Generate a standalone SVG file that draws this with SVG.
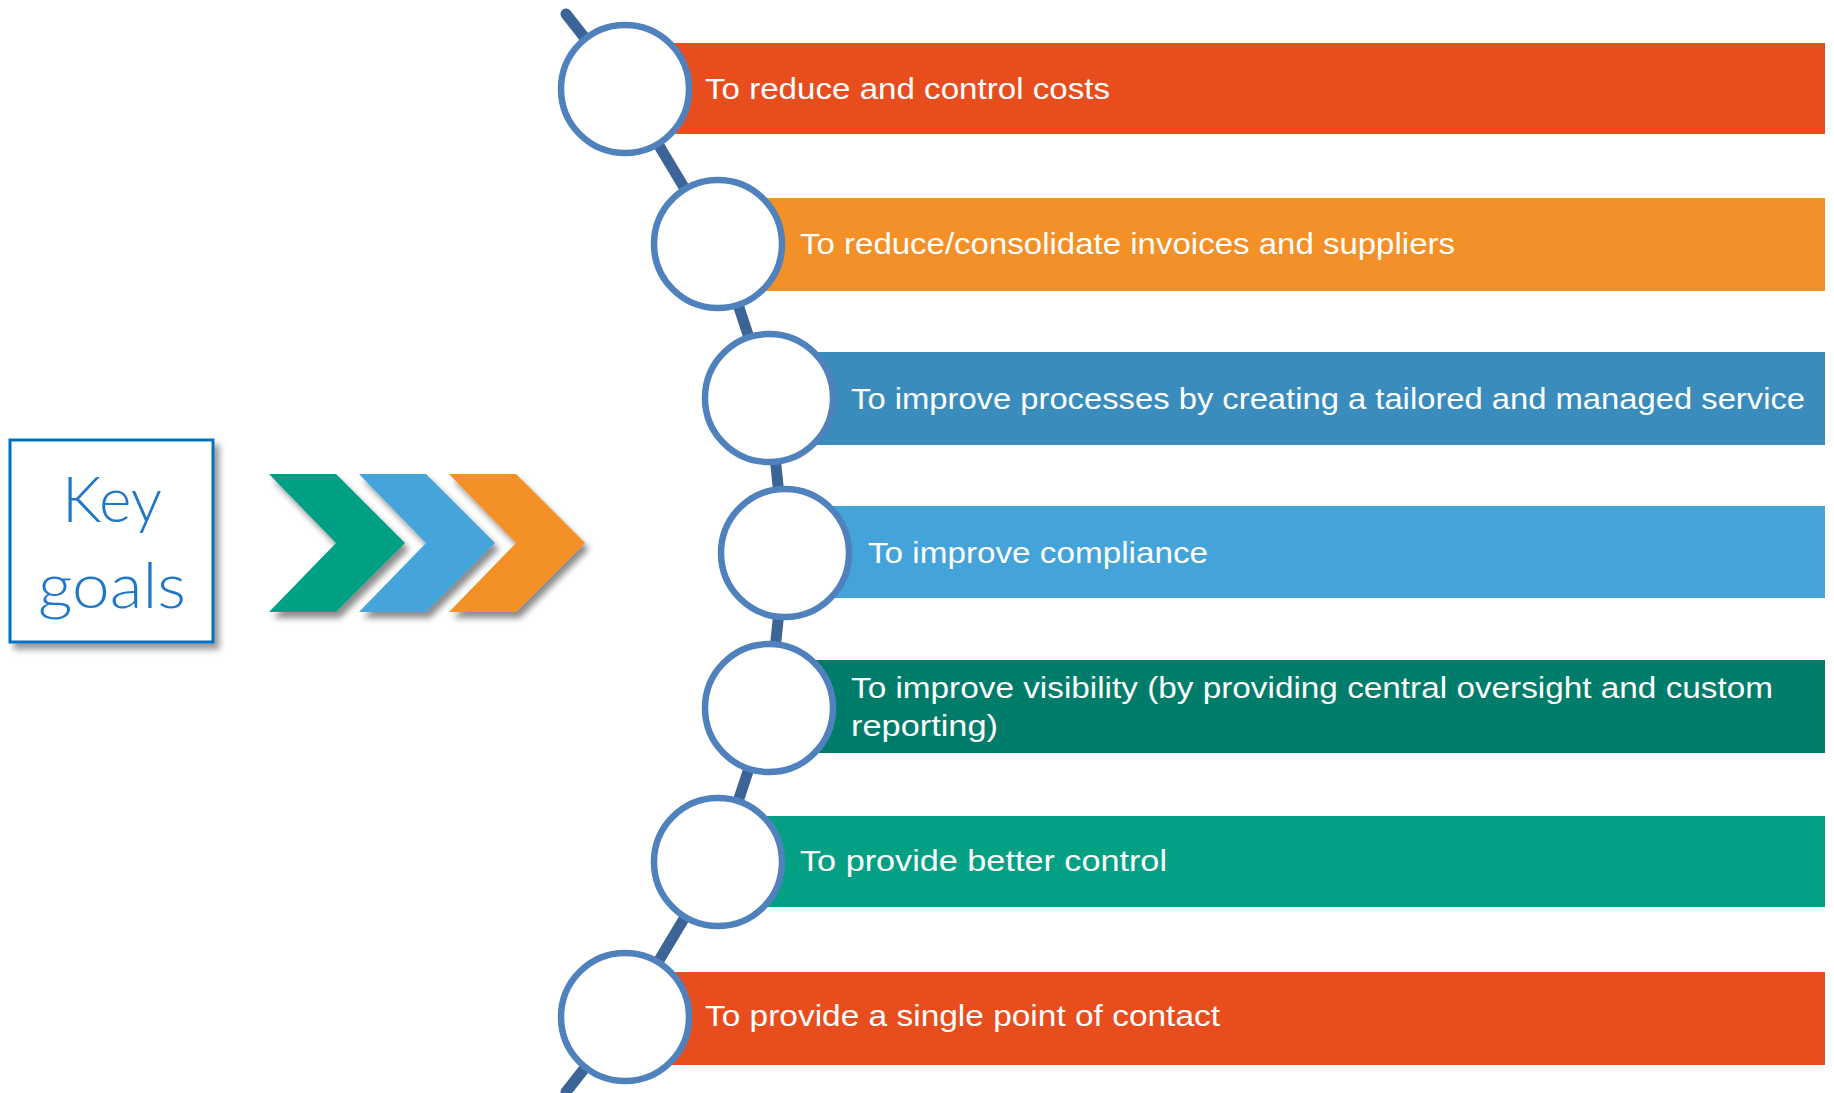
<svg xmlns="http://www.w3.org/2000/svg" width="1834" height="1093" viewBox="0 0 1834 1093">
  <defs>
    <filter id="shadow" x="-20%" y="-20%" width="150%" height="150%">
      <feDropShadow dx="4" dy="6" stdDeviation="3" flood-color="#000" flood-opacity="0.45"/>
    </filter>
    <filter id="boxshadow" x="-20%" y="-20%" width="150%" height="150%">
      <feDropShadow dx="5" dy="6" stdDeviation="3" flood-color="#000" flood-opacity="0.4"/>
    </filter>
  </defs>
  <style>
    .ring { fill: #ffffff; stroke: #4F81BD; stroke-width: 6.5; }
    .stem { fill: none; stroke: #3D6496; stroke-width: 11; stroke-linejoin: round; stroke-linecap: round; }
    .lbl { font-family: "Liberation Sans", Arial, sans-serif; font-size: 29px; fill: #ffffff; }
    .key { font-family: Lato, "Liberation Sans", Arial, sans-serif; font-weight: 300; font-size: 64px; fill: #1F77C9; text-anchor: middle; }
  </style>
  <rect width="1834" height="1093" fill="#ffffff"/>

  <g id="key-goals">
    <rect x="10" y="440" width="203" height="202" fill="#ffffff" stroke="#0070C0" stroke-width="3" filter="url(#boxshadow)"/>
    <text class="key" x="112" y="522" textLength="100" lengthAdjust="spacingAndGlyphs">Key</text>
    <text class="key" x="112" y="608" textLength="148" lengthAdjust="spacingAndGlyphs">goals</text>
  </g>

  <g id="chevrons" filter="url(#shadow)">
    <polygon points="269,474 336,474 405,543 336,612 269,612 336,543" fill="#03A084"/>
    <polygon points="359,474 426,474 495,543 426,612 359,612 426,543" fill="#44A4DA"/>
    <polygon points="449,474 516,474 585,543 516,612 449,612 516,543" fill="#F39027"/>
  </g>

  <g id="bars">
    <rect x="625" y="43" width="1200" height="91" fill="#E84E1D"/>
    <rect x="718" y="198" width="1107" height="93" fill="#F39027"/>
    <rect x="769" y="352" width="1056" height="93" fill="#3A8CBC"/>
    <rect x="785" y="506" width="1040" height="92" fill="#44A4DA"/>
    <rect x="769" y="660" width="1056" height="93" fill="#007C6A"/>
    <rect x="718" y="816" width="1107" height="91" fill="#03A084"/>
    <rect x="625" y="972" width="1200" height="93" fill="#E84E1D"/>
  </g>

  <g id="connectors">
    <polyline class="stem" points="566,14 625,89 718,244 769,398 785,553 769,708 718,862 625,1017 566,1092"/>
  </g>

  <g id="goal-1">
    <circle class="ring" cx="625" cy="89" r="64"/>
    <text class="lbl" x="705" y="99" textLength="405" lengthAdjust="spacingAndGlyphs">To reduce and control costs</text>
  </g>
  <g id="goal-2">
    <circle class="ring" cx="718" cy="244" r="64"/>
    <text class="lbl" x="800" y="254" textLength="655" lengthAdjust="spacingAndGlyphs">To reduce/consolidate invoices and suppliers</text>
  </g>
  <g id="goal-3">
    <circle class="ring" cx="769" cy="398" r="64"/>
    <text class="lbl" x="851" y="409" textLength="954" lengthAdjust="spacingAndGlyphs">To improve processes by creating a tailored and managed service</text>
  </g>
  <g id="goal-4">
    <circle class="ring" cx="785" cy="553" r="64"/>
    <text class="lbl" x="868" y="563" textLength="340" lengthAdjust="spacingAndGlyphs">To improve compliance</text>
  </g>
  <g id="goal-5">
    <circle class="ring" cx="769" cy="708" r="64"/>
    <text class="lbl" x="851" y="698" textLength="922" lengthAdjust="spacingAndGlyphs">To improve visibility (by providing central oversight and custom</text>
    <text class="lbl" x="851" y="736" textLength="147" lengthAdjust="spacingAndGlyphs">reporting)</text>
  </g>
  <g id="goal-6">
    <circle class="ring" cx="718" cy="862" r="64"/>
    <text class="lbl" x="800" y="871" textLength="367" lengthAdjust="spacingAndGlyphs">To provide better control</text>
  </g>
  <g id="goal-7">
    <circle class="ring" cx="625" cy="1017" r="64"/>
    <text class="lbl" x="705" y="1026" textLength="515" lengthAdjust="spacingAndGlyphs">To provide a single point of contact</text>
  </g>
</svg>
